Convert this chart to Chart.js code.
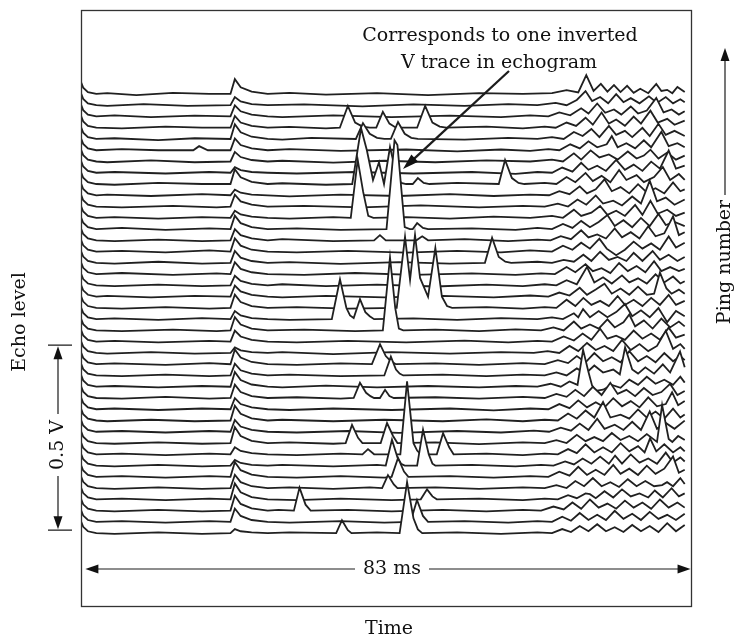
<!DOCTYPE html>
<html>
<head>
<meta charset="utf-8">
<script src="https://cdn.jsdelivr.net/npm/chart.js@4.4.1/dist/chart.umd.min.js"></script>
<style>
html,body{margin:0;padding:0;background:#fff;}
#wrap{width:735px;height:637px;position:relative;}
</style>
</head>
<body>
<div id="wrap"><canvas id="c" width="735" height="637"></canvas></div>
<script>
// ---- Data: echo traces, time in ms, echo level in mV (pairs t, mV) ----
// Transmit ring-down common to every ping
const ringdownMv = [-0.6,32, -0.3,17, 0.35,5, 1.5,0];

// ping01 = bottom (front) trace ... ping40 = top (back) trace
const ping40 = [3,2, 7,-3, 12,3, 17,0, 19.9,0, 20.5,40, 21.3,18, 22.8,6, 25,0, 28,3, 33,-2, 40,2, 47,-3, 54,2, 60,0, 64,2, 66,10, 67.6,4, 68.7,51, 69.7,8, 70.7,27, 71.6,6, 72.5,24, 73.4,5, 74.3,22, 75.2,3, 76.1,14, 77.2,2, 78.3,27, 79,8, 79.8,11, 80.5,2, 81.2,19, 82.2,5];
const ping39 = [3,-2, 8,3, 14,-2, 19.9,0, 20.5,22, 21.3,10, 22.8,3, 25,0, 30,2, 38,-3, 45,2, 52,-2, 58,3, 62,0, 64.5,6, 66,0, 67.4,14, 68.6,38, 69.5,11, 70.6,22, 71.7,5, 72.8,30, 73.8,8, 74.8,19, 76,5, 77.3,24, 78.4,6, 79.6,22, 80.6,5, 81.6,16, 82.2,8];
const ping38 = [4,3, 9,-2, 15,2, 19.9,0, 20.5,30, 21.3,14, 22.8,5, 25,0, 27,-2, 34,3, 42,-2, 50,2, 57,-2, 61,3, 63.5,0, 65,11, 66.5,3, 68,22, 69,8, 70.2,35, 71.3,10, 72.5,19, 73.5,5, 74.8,27, 75.8,8, 77,16, 78.3,50, 79.3,11, 80.4,19, 81.4,5, 82.2,14];
const ping37 = [5,-2, 11,3, 16,0, 19.9,0, 20.5,32, 21.3,14, 22.8,5, 25,0, 28,2, 33,-2, 34.9,0, 36.0,59, 37.0,14, 38.0,3, 39,0, 39.9,0, 40.8,43, 41.7,11, 42.6,0, 45.5,0, 46.6,59, 47.6,14, 48.6,3, 49.5,0, 55,3, 60,-2, 63,3, 64.5,0, 66,14, 67.3,5, 68.6,27, 69.6,8, 70.8,41, 71.8,11, 72.8,22, 74,5, 75.2,30, 76.2,11, 77.5,46, 78.5,14, 79.8,24, 80.8,8, 82.2,19];
const ping36 = [4,2, 10,-3, 15,2, 19.9,0, 20.5,40, 21.3,18, 22.8,6, 25,0, 27,-2, 31,3, 37.1,0, 38.07,43, 39.0,14, 40.0,3, 41,0, 41.9,0, 42.88,46, 43.8,14, 44.7,3, 45.6,0, 52,-2, 58,3, 62,0, 64,5, 65.6,0, 67,19, 68.2,8, 69.4,27, 70.5,5, 71.8,35, 72.8,11, 74,22, 75,5, 76.4,30, 77.4,8, 78.6,41, 79.6,11, 80.8,22, 82.2,8];
const ping35 = [5,3, 10,0, 14.8,0, 15.6,11, 16.8,0, 19.9,0, 20.5,32, 21.3,14, 22.8,5, 25,0, 28,3, 35,-2, 44,2, 51,-3, 57,2, 61,-2, 63.5,3, 65,0, 66.5,16, 67.8,5, 69,24, 70.2,8, 71.5,16, 72.2,38, 73,8, 74.2,19, 75.4,5, 76.6,27, 77.6,8, 79,50, 80,11, 81.2,19, 82.2,8];
const ping34 = [3,-2, 9,3, 15,-2, 19.9,0, 20.5,26, 21.3,12, 22.8,4, 25,0, 27,2, 34,-3, 41,2, 48,-2, 55,3, 61,0, 64,5, 65.5,0, 67,22, 68,5, 69.3,30, 70.5,11, 71.8,19, 73,5, 74.4,27, 75.6,8, 76.6,16, 77.5,32, 78.6,8, 79.8,24, 81,5, 82.2,16];
const ping33 = [4,2, 11,-2, 17,2, 19.9,0, 20.5,15, 21.3,7, 22.8,2, 25,0, 29,-2, 37,2, 45,-2, 53,2, 59,-3, 62,2, 64,0, 65.4,14, 66.8,3, 68,27, 69,8, 70.2,19, 71.4,5, 72.8,35, 74,8, 75.2,22, 76.4,5, 77.6,30, 78.8,11, 80,60, 81,11, 82.2,19];
const ping32 = [4,-2, 10,3, 16,0, 19.9,0, 20.5,40, 21.3,18, 22.8,6, 25,0, 27,2, 33,-2, 36.6,0, 37.81,151, 38.6,92, 39.45,11, 40.27,59, 40.96,0, 41.78,100, 42.6,30, 43.3,3, 44,0, 44.9,0, 45.6,16, 46.4,3, 47.2,0, 51,3, 56.7,0, 57.56,65, 58.5,16, 59.4,3, 60.2,0, 63,3, 64.6,0, 66,19, 67.2,5, 68.6,30, 69.6,8, 70.8,22, 72,5, 73.2,38, 74.2,11, 75.6,24, 76.6,5, 78,19, 79.2,46, 80.2,11, 81.4,27, 82.2,11];
const ping31 = [3,2, 9,-2, 16,3, 19.9,0, 20.5,15, 21.3,7, 22.8,2, 25,0, 28,-3, 35,2, 43,-2, 50,3, 56,-2, 61,2, 63.6,0, 65,11, 66.4,3, 67.8,24, 68.8,5, 70,16, 71.2,43, 72.2,11, 73.4,22, 74.6,5, 75.8,30, 77,8, 78.2,19, 79.4,5, 80.6,35, 81.6,11, 82.2,16];
const ping30 = [5,-2, 12,2, 18,-2, 19.9,0, 20.5,32, 21.3,14, 22.8,5, 25,0, 30,2, 38,-2, 46,3, 54,-2, 60,2, 63,0, 64.8,8, 66.2,0, 67.5,19, 68.7,5, 70,30, 71,8, 72.4,16, 73.6,3, 75,27, 76.2,8, 77.4,70, 78.4,14, 79.6,24, 80.8,5, 82.2,19];
const ping29 = [4,2, 10,-2, 16,2, 19.9,0, 20.5,19, 21.3,9, 22.8,3, 25,0, 28,-2, 34,2, 36.4,0, 37.35,157, 38.1,70, 38.8,5, 39.5,0, 44,2, 50,-2, 56,3, 61,0, 64,5, 65.5,0, 67,22, 68,5, 69.4,14, 70.6,32, 71.6,8, 72.8,19, 74,5, 75.4,35, 76.4,8, 77.5,46, 78.5,11, 79.8,22, 81,5, 82.2,14];
const ping28 = [5,3, 11,-2, 17,2, 19.9,0, 20.5,36, 21.3,16, 22.8,5, 25,0, 29,2, 35,-2, 41.3,0, 42.4,240, 42.8,227, 43.8,5, 44.5,0, 44.9,0, 45.5,16, 46.3,3, 47,0, 53,2, 59,-2, 62,3, 64,0, 65.5,14, 66.8,3, 68,22, 69.2,5, 70.4,19, 71.6,38, 72.6,8, 73.8,24, 75,5, 76.2,30, 77.4,8, 78.6,41, 79.6,11, 80.8,19, 82.2,8];
const ping27 = [4,-2, 10,2, 16,-2, 19.9,0, 20.5,30, 21.3,14, 22.8,5, 25,0, 27,3, 34,-2, 39.6,0, 40.4,14, 41.2,0, 45.4,0, 46.2,11, 47,0, 52,3, 58,-2, 62,2, 63.8,0, 65.2,11, 66.6,3, 68,27, 69,8, 70.2,16, 71.4,5, 72.6,32, 73.6,8, 74.8,22, 76,5, 77.2,38, 78.2,11, 79.4,19, 80.6,65, 81.4,14, 82.2,22];
const ping26 = [5,2, 11,-2, 17,3, 19.9,0, 20.5,36, 21.3,16, 22.8,5, 25,0, 29,-2, 36,2, 44,-3, 51,2, 57,-2, 61,3, 64,0, 65.5,16, 66.8,5, 68,24, 69.2,8, 70.5,35, 71.5,8, 72.8,-10, 74,5, 75.2,27, 76.4,8, 77.6,22, 78.8,5, 80,41, 81,11, 82.2,24];
const ping25 = [4,-2, 10,3, 16,-2, 19.9,0, 20.5,32, 21.3,14, 22.8,5, 25,0, 28,2, 35,-3, 43,2, 50,-2, 54.8,0, 55.78,68, 56.7,16, 57.6,3, 58.4,0, 62,3, 64,0, 65.6,8, 67,3, 68.3,22, 69.4,5, 70.6,30, 71.8,8, 73,16, 74.2,5, 75.2,27, 76.4,5, 77.8,32, 78.8,8, 80,22, 81.2,5, 82.2,16];
const ping24 = [5,3, 12,-2, 18,2, 19.9,0, 20.5,32, 21.3,14, 22.8,5, 25,0, 30,-2, 37,3, 45,-2, 53,2, 59,-2, 62.5,2, 64.4,0, 66,19, 67.2,5, 68.6,27, 69.6,8, 70.8,16, 72,3, 73.2,30, 74.4,8, 75.6,22, 76.8,5, 78,35, 79,8, 80.2,19, 81.4,8, 82.2,14];
const ping23 = [4,-2, 10,2, 16,-2, 19.9,0, 20.5,26, 21.3,12, 22.8,4, 25,0, 27,3, 33,-2, 40,2, 48,-3, 55,2, 60,-2, 63,3, 64.6,0, 66,14, 67.4,3, 68.8,50, 69.8,8, 71,22, 72.2,5, 73.6,27, 74.6,8, 75.8,19, 77,5, 78.2,30, 79.4,8, 80.6,24, 81.6,5, 82.2,11];
const ping22 = [3,2, 9,-2, 15,2, 19.9,0, 20.5,30, 21.3,14, 22.8,5, 25,0, 27,-2, 33,2, 41,-2, 49,2, 56,-2, 61,3, 63.5,0, 65,11, 66.4,3, 67.8,24, 68.8,5, 70,19, 71.2,35, 72.2,8, 73.4,22, 74.6,5, 75.8,27, 77,5, 78,8, 78.8,65, 79.7,22, 80.4,8, 81.4,19, 82.2,8];
const ping21 = [5,-2, 11,2, 17,-2, 19.9,0, 20.5,36, 21.3,16, 22.8,5, 25,0, 29,2, 36,-2, 42.7,0, 43.84,192, 44.53,76, 45.21,197, 45.9,81, 47.0,30, 48.0,162, 48.9,30, 49.6,5, 50.3,0, 55,2, 60,-2, 63,2, 64.6,0, 66,22, 67.2,5, 68.3,27, 69.4,8, 70.6,19, 71.8,5, 73,32, 74,8, 75.2,22, 76.4,5, 77.6,27, 78.8,8, 80,35, 81,8, 82.2,19];
const ping20 = [4,2, 10,-2, 16,3, 19.9,0, 20.5,22, 21.3,10, 22.8,3, 25,0, 28,-2, 33.8,0, 34.92,108, 35.8,30, 36.3,10, 36.8,3, 37.66,54, 38.4,19, 39,8, 39.6,0, 45,2, 51,-2, 57,3, 62,0, 64,5, 65.5,0, 67,16, 67.6,5, 68.26,27, 69.2,5, 70.4,22, 71.6,5, 72.8,19, 74,41, 75,8, 76.2,24, 77.4,5, 78.6,30, 79.8,-8, 81,22, 82.2,8];
const ping19 = [5,-2, 12,2, 18,-2, 19.9,0, 20.5,36, 21.3,16, 22.8,5, 25,0, 30,2, 37,-2, 40.8,0, 41.78,197, 42.5,60, 43.0,5, 43.6,0, 48,2, 54,-2, 59,3, 62.5,0, 64.2,8, 65.6,0, 67,24, 68,5, 69.2,16, 70.4,5, 71.6,30, 72.6,8, 73.8,22, 74.6,43, 75.4,11, 76.6,27, 77.8,5, 79,32, 80.2,8, 81.4,24, 82.2,11];
const ping18 = [4,2, 10,-2, 17,2, 19.9,0, 20.5,30, 21.3,14, 22.8,5, 25,0, 29,-2, 36,2, 44,-2, 52,3, 58,-2, 62,2, 64,0, 65.6,14, 67,3, 68.2,22, 69.4,5, 70.6,35, 71.6,8, 72.8,16, 74,5, 75.2,30, 76.4,8, 77.6,22, 78.8,5, 80,38, 81,11, 82.2,19];
const ping17 = [3,-2, 9,2, 15,-2, 19.9,0, 20.5,15, 21.3,7, 22.8,2, 25,0, 27,2, 34,-3, 42,2, 50,-2, 57,2, 61.5,0, 63.4,5, 65,0, 66.4,19, 67.6,5, 68.8,27, 70,8, 71.2,19, 72.4,5, 73.6,35, 74.8,8, 76,24, 77.2,5, 78.4,19, 79.6,60, 80.6,11, 81.6,24, 82.2,11];
const ping16 = [4,2, 11,-2, 17,3, 19.9,0, 20.5,40, 21.3,18, 22.8,6, 25,0, 29,-2, 35,2, 39.3,0, 40.41,54, 41.2,22, 41.9,8, 42.6,0, 48,2, 54,-2, 60,3, 63,0, 64.8,11, 66.2,3, 67.4,22, 68.6,5, 69.8,30, 71,8, 72.2,19, 73.4,5, 74.6,35, 75.8,8, 77,22, 78.2,5, 79.4,30, 80.6,8, 81.6,22, 82.2,11];
const ping15 = [5,-2, 11,2, 17,-2, 19.9,0, 20.5,32, 21.3,14, 22.8,5, 25,0, 28,2, 35,-2, 41.0,0, 41.9,51, 42.6,16, 43.1,5, 43.6,0, 49,2, 55,-2, 60,2, 63,0, 64.6,8, 66,0, 67.4,19, 68.6,5, 69.8,27, 71,8, 72.4,16, 73.3,3, 74.02,76, 75,16, 75.8,5, 76.8,22, 78,5, 79.2,30, 80.2,8, 81.56,65, 82.2,22];
const ping14 = [4,2, 10,-2, 16,2, 19.9,0, 20.5,40, 21.3,18, 22.8,6, 25,0, 27,-2, 33,3, 40,-2, 47,2, 54,-2, 59,2, 62,0, 63.8,8, 65.2,0, 66.4,14, 67.5,5, 68.26,100, 69,40, 69.5,3, 70,-11, 71,-8, 72.2,5, 73.4,-3, 74.6,19, 75.8,5, 77,27, 78.2,8, 79.4,19, 80.6,5, 81.6,27, 82.2,11];
const ping13 = [5,-2, 11,3, 17,-2, 19.9,0, 20.5,36, 21.3,16, 22.8,5, 25,0, 29,2, 35,-2, 36.8,0, 37.66,41, 38.5,14, 39.1,5, 39.6,0, 40.4,0, 41.1,22, 41.7,5, 42.3,0, 48,2, 54,-2, 60,3, 63,0, 64.6,11, 66,3, 67.2,22, 68.4,5, 69.6,30, 70.8,8, 72,41, 73,11, 74.2,22, 75.4,5, 76.6,27, 77.8,8, 79,16, 80.2,38, 81.2,8, 82.2,19];
const ping12 = [4,2, 10,-2, 16,2, 19.9,0, 20.5,30, 21.3,14, 22.8,5, 25,0, 28,-2, 34,2, 42,-2, 50,2, 56,-3, 61,2, 63.5,0, 65,14, 66.4,3, 67.6,24, 68.8,5, 70,19, 71.2,5, 72.4,30, 73.6,8, 74.8,22, 76,5, 77.2,32, 78.4,8, 79.6,14, 80.47,46, 81.3,11, 82.2,22];
const ping11 = [3,-2, 9,2, 15,-2, 19.9,0, 20.5,40, 21.3,18, 22.8,6, 25,0, 27,2, 34,-2, 41,2, 49,-2, 55,3, 60,-2, 63,2, 64.8,0, 66.2,19, 67.4,5, 68.6,27, 69.8,8, 71,50, 72,8, 73.4,16, 74.6,5, 75.8,30, 77,8, 78.2,24, 79.4,5, 80.6,32, 81.6,8, 82.2,16];
const ping10 = [5,2, 11,-2, 17,2, 19.9,0, 20.5,32, 21.3,14, 22.8,5, 25,0, 29,-2, 36,2, 43,-3, 51,2, 57,-2, 61.5,3, 63.6,0, 65.2,11, 66.6,3, 67.8,22, 69,5, 70.2,35, 71.2,8, 72.6,19, 73.8,5, 75,27, 76.2,5, 77.4,55, 78.4,8, 79.6,24, 80.8,8, 82.2,30];
const ping09 = [4,-2, 10,2, 16,-2, 19.9,0, 20.5,43, 21.3,19, 22.8,6, 25,0, 28,2, 34,-2, 35.7,0, 36.57,49, 37.4,14, 38,0, 40.5,0, 41.37,54, 42.2,19, 42.8,0, 48,2, 54,-3, 60,2, 63,0, 64.6,8, 66,0, 67.4,22, 68.6,5, 69.8,16, 71,5, 72.2,27, 73.4,8, 74.6,19, 75.8,5, 77,24, 78.4,3, 79.1,103, 80,11, 80.5,3, 81.3,19, 82.2,8];
const ping08 = [5,2, 11,-2, 17,2, 19.9,0, 20.5,19, 21.3,9, 22.8,3, 25,0, 29,-2, 35,2, 38.0,0, 38.76,14, 39.6,0, 43.2,0, 44.12,197, 45.0,30, 45.5,10, 46,0, 48.2,0, 49.06,57, 49.9,19, 50.5,0, 55,2, 60,-2, 63,2, 64.8,0, 66.2,14, 67.4,3, 68.6,27, 69.8,5, 71,19, 72.2,5, 73.4,30, 74.6,8, 75.8,22, 76.7,5, 77.45,43, 78.3,8, 79.4,27, 80.6,5, 81.6,19, 82.2,8];
const ping07 = [4,-2, 10,2, 16,-2, 19.9,0, 20.5,15, 21.3,7, 22.8,2, 25,0, 27,2, 34,-2, 40,2, 41.2,0, 42.05,70, 42.8,22, 43.3,5, 43.8,0, 45.5,0, 46.31,97, 47.1,30, 47.6,5, 48,0, 53,2, 59,-2, 62.5,2, 64.2,0, 65.8,11, 67,3, 68.2,19, 69.4,5, 70.6,24, 71.8,5, 72.65,27, 73.6,5, 74.8,30, 76,8, 77.2,19, 78.4,5, 79.6,35, 80.6,8, 81.6,22, 82.2,11];
const ping06 = [5,2, 11,-2, 17,2, 19.9,0, 20.5,40, 21.3,18, 22.8,6, 25,0, 29,-2, 35,2, 41,-2, 42.0,0, 42.88,51, 43.7,14, 44.3,0, 50,2, 56,-2, 61,2, 63.5,0, 65,14, 66.4,3, 67.6,27, 68.8,5, 70,19, 71.2,5, 72.4,32, 73.4,8, 74.6,22, 75.8,5, 77,30, 78.2,8, 79.4,22, 80.6,55, 81.4,11, 82.2,19];
const ping05 = [4,-2, 10,2, 16,-2, 19.9,0, 20.5,36, 21.3,16, 22.8,5, 25,0, 28,2, 34,-2, 39,2, 40.7,0, 41.5,35, 42.3,10, 42.8,0, 48,2, 54,-2, 60,2, 63,0, 64.6,8, 66,0, 67.2,19, 68.4,5, 69.6,27, 70.8,5, 72,16, 73.2,3, 74.4,24, 75.6,5, 76.8,19, 78,5, 79.1,8, 79.78,16, 80.6,5, 81.6,27, 82.2,11];
const ping04 = [5,2, 11,-2, 17,2, 19.9,0, 20.5,43, 21.3,19, 22.8,6, 25,0, 29,-2, 35,2, 42,-2, 46.0,0, 46.86,27, 47.6,8, 48.2,0, 54,2, 60,-2, 63,2, 64.8,0, 66.2,11, 67.4,3, 68.6,16, 69.2,14, 70,3, 71.2,22, 72.4,5, 73.6,27, 74.8,8, 76,16, 77.2,5, 78.1,24, 79.2,5, 80.4,30, 81.4,8, 82.2,16];
const ping03 = [4,-2, 10,2, 16,-2, 19.9,0, 20.5,40, 21.3,18, 22.8,6, 25,0, 26.5,2, 28.6,0, 29.37,62, 30.2,16, 30.9,0, 36,2, 42,-2, 49,2, 55,-2, 60,2, 62.5,0, 64.2,11, 65.6,3, 66.8,22, 68,5, 69.2,30, 70.4,8, 71.6,19, 72.8,5, 74,27, 75.2,8, 76.4,22, 77.6,5, 78.8,30, 80,8, 81.2,22, 82.2,8];
const ping02 = [5,2, 11,-2, 17,2, 19.9,0, 20.5,36, 21.3,16, 22.8,5, 25,0, 28,-2, 35,2, 41,-2, 44.6,0, 45.48,59, 46.3,16, 47,0, 52,2, 58,-2, 62,2, 64,0, 65.4,14, 66.6,3, 67.8,24, 69,5, 70.2,19, 71.4,5, 72.6,30, 73.8,8, 75,22, 76.2,5, 77.4,27, 78.6,8, 79.8,19, 81,5, 82.2,22];
const ping01 = [4,-2, 10,2, 16,-2, 19.9,0, 20.5,11, 21.3,5, 22.8,2, 25,0, 28,2, 34.4,0, 35.19,35, 36,8, 36.5,0, 40,2, 43.1,0, 44.12,138, 45.0,40, 45.6,10, 46.2,0, 51,2, 57,-2, 62,2, 64,0, 65.4,11, 66.6,3, 67.8,19, 69,5, 70.2,24, 71.4,5, 72.6,16, 73.8,3, 75,22, 76.2,5, 77.4,19, 78.6,3, 79.8,27, 81,5, 82.2,22];

// Labels / scale references
const annotationLines = ["Corresponds to one inverted", "V trace in echogram"];
const xAxisTitle = "Time";
const yAxisTitle = "Echo level";
const pingAxisTitle = "Ping number";
const timeSpanMs = 83;
const timeSpanLabel = "83 ms";
const echoBarMv = 500;
const echoBarLabel = "0.5 V";
const echoBarBaseMv = 8;

// ---- Build chart ----
const PING_STEP_MV = 30.44;
const pings = [ping01,ping02,ping03,ping04,ping05,ping06,ping07,ping08,ping09,ping10,
               ping11,ping12,ping13,ping14,ping15,ping16,ping17,ping18,ping19,ping20,
               ping21,ping22,ping23,ping24,ping25,ping26,ping27,ping28,ping29,ping30,
               ping31,ping32,ping33,ping34,ping35,ping36,ping37,ping38,ping39,ping40];

function toPoints(flat, index) {
  const all = ringdownMv.concat(flat);
  const pts = [];
  for (let i = 0; i < all.length; i += 2) {
    pts.push({ x: all[i], y: index * PING_STEP_MV + all[i + 1] });
  }
  return pts;
}

const datasets = pings.map((arr, i) => ({
  label: 'Ping ' + (i + 1),
  data: toPoints(arr, i),
  borderColor: '#202020',
  borderWidth: 1.8,
  backgroundColor: '#ffffff',
  fill: 'start',
  pointRadius: 0,
  tension: 0,
  borderJoinStyle: 'miter'
}));

const FONT = '"DejaVu Serif", "Liberation Serif", serif';

function arrowHead(ctx, x, y, angle, len, half) {
  ctx.save();
  ctx.translate(x, y);
  ctx.rotate(angle);
  ctx.beginPath();
  ctx.moveTo(0, 0);
  ctx.lineTo(-len, -half);
  ctx.lineTo(-len, half);
  ctx.closePath();
  ctx.fill();
  ctx.restore();
}

const overlay = {
  id: 'overlay',
  afterDraw(chart) {
    const { ctx, chartArea: a, scales } = chart;
    const xs = scales.x, ys = scales.y;
    ctx.save();
    ctx.fillStyle = '#111';

    // frame
    ctx.lineWidth = 1.3;
    ctx.strokeStyle = '#333';
    ctx.strokeRect(a.left + 0.5, a.top + 0.5, a.right - a.left - 1, a.bottom - a.top);
    ctx.strokeStyle = '#1c1c1c';

    // annotation text
    ctx.font = '19px ' + FONT;
    ctx.textAlign = 'center';
    ctx.textBaseline = 'alphabetic';
    ctx.fillText(annotationLines[0], 500, 41);
    ctx.fillText(annotationLines[1], 499, 68);

    // annotation arrow
    const tx = 509, ty = 71, hx = 403, hy = 169;
    const ang = Math.atan2(hy - ty, hx - tx);
    ctx.lineWidth = 2.3;
    ctx.beginPath();
    ctx.moveTo(tx, ty);
    ctx.lineTo(hx - 12 * Math.cos(ang), hy - 12 * Math.sin(ang));
    ctx.stroke();
    arrowHead(ctx, hx, hy, ang, 16, 5);

    // time span arrow
    const ay = 569;
    const x0 = xs.getPixelForValue(0), x1 = xs.getPixelForValue(timeSpanMs);
    const cx = 392;
    ctx.font = '19px ' + FONT;
    ctx.textBaseline = 'middle';
    const w = ctx.measureText(timeSpanLabel).width;
    ctx.fillText(timeSpanLabel, cx, ay);
    ctx.lineWidth = 1.2;
    ctx.beginPath();
    ctx.moveTo(x0 + 6, ay); ctx.lineTo(cx - w / 2 - 8, ay);
    ctx.moveTo(cx + w / 2 + 8, ay); ctx.lineTo(x1 - 6, ay);
    ctx.stroke();
    arrowHead(ctx, x0, ay, Math.PI, 13, 4.5);
    arrowHead(ctx, x1, ay, 0, 13, 4.5);

    // x axis title
    ctx.fillText(xAxisTitle, 389, 629);

    // y axis title
    ctx.save();
    ctx.translate(20, 322);
    ctx.rotate(-Math.PI / 2);
    ctx.fillText(yAxisTitle, 0, 0);
    ctx.restore();

    // 0.5 V bar
    const bx = 58;
    const yTop = ys.getPixelForValue(echoBarBaseMv + echoBarMv);
    const yBot = ys.getPixelForValue(echoBarBaseMv);
    const lc = 445;
    ctx.lineWidth = 1.2;
    ctx.beginPath();
    ctx.moveTo(48, yTop); ctx.lineTo(72, yTop);
    ctx.moveTo(48, yBot); ctx.lineTo(72, yBot);
    ctx.moveTo(bx, yTop + 8); ctx.lineTo(bx, lc - 31);
    ctx.moveTo(bx, lc + 31); ctx.lineTo(bx, yBot - 8);
    ctx.stroke();
    arrowHead(ctx, bx, yTop + 1, -Math.PI / 2, 13, 4.5);
    arrowHead(ctx, bx, yBot - 1, Math.PI / 2, 13, 4.5);
    ctx.save();
    ctx.translate(bx, lc);
    ctx.rotate(-Math.PI / 2);
    ctx.fillText(echoBarLabel, 0, 0);
    ctx.restore();

    // ping number label + arrow
    ctx.save();
    ctx.translate(725, 262);
    ctx.rotate(-Math.PI / 2);
    ctx.fillText(pingAxisTitle, 0, 0);
    ctx.restore();
    ctx.lineWidth = 1.2;
    ctx.beginPath();
    ctx.moveTo(725, 195); ctx.lineTo(725, 58);
    ctx.stroke();
    arrowHead(ctx, 725, 48, -Math.PI / 2, 13, 4.5);

    ctx.restore();
  }
};

new Chart(document.getElementById('c'), {
  type: 'line',
  data: { datasets },
  options: {
    responsive: false,
    animation: false,
    devicePixelRatio: 1,
    layout: { padding: { left: 81, right: 43, top: 10, bottom: 31 } },
    plugins: { legend: { display: false }, tooltip: { enabled: false }, filler: { propagate: false } },
    scales: {
      x: { type: 'linear', min: -0.6, max: 83.2, display: false },
      y: { type: 'linear', min: -197, max: 1414, display: false }
    }
  },
  plugins: [overlay]
});
</script>
</body>
</html>
